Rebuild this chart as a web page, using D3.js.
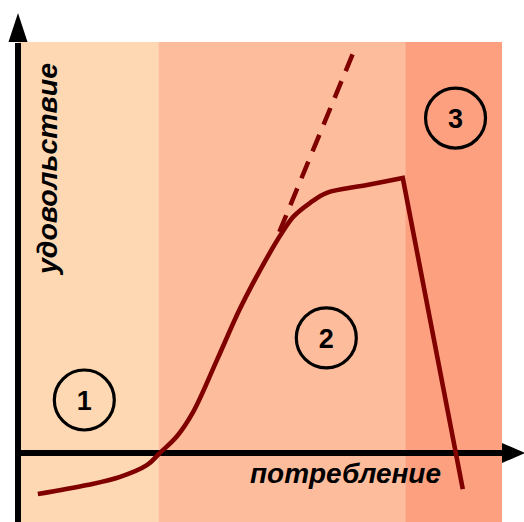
<!DOCTYPE html>
<html><head><meta charset="utf-8">
<script src="https://cdn.jsdelivr.net/npm/d3@7"></script>
<style>html,body{margin:0;padding:0;background:#fff;}</style>
</head><body>
<script>
// Zones (x-range in data units) and their colours
const zoneNames = ["1", "2", "3"];
const zoneStarts = [0, 2.9, 8.0];
const zoneEnds = [2.9, 8.0, 10];
const zoneColors = ["#FED8B2", "#FDBD9C", "#FCA080"];
// label circle positions
const zoneLabelX = [1.37, 6.37, 9.04];
const zoneLabelY = [1.29, 2.80, 8.15];

// Satisfaction curve (smooth part)
const curveX = [0.41, 1.43, 2.11, 2.67, 2.93, 3.28, 3.62, 4.11, 4.59, 5.04, 5.45, 5.69, 6.03, 6.38, 7.21, 7.95];
const curveY = [-1.00, -0.78, -0.58, -0.29, 0.00, 0.40, 1.00, 2.26, 3.52, 4.53, 5.35, 5.75, 6.08, 6.33, 6.52, 6.69];
// drop after saturation point
const dropX = [7.95, 9.19];
const dropY = [6.69, -0.88];
// dashed extrapolation
const dashX = [5.40, 7.0];
const dashY = [5.38, 9.95];

const xLabel = "потребление";
const yLabel = "удовольствие";

const W = 524, H = 522;
const svg = d3.select("body").append("svg").attr("width", W).attr("height", H);

const x = d3.scaleLinear().domain([0, 10]).range([18, 502]);
const y = d3.scaleLinear().domain([0, 10]).range([453, 42]);
const yBottom = -1.7;

// zones
svg.selectAll("rect.zone").data(zoneNames).enter().append("rect")
  .attr("x", (d, i) => x(zoneStarts[i]))
  .attr("width", (d, i) => x(zoneEnds[i]) - x(zoneStarts[i]))
  .attr("y", y(10))
  .attr("height", y(yBottom) - y(10))
  .attr("fill", (d, i) => zoneColors[i]);

const red = "#800000";
// dashed line
svg.append("path")
  .attr("d", d3.line().x(d => x(d[0])).y(d => y(d[1]))(d3.zip(dashX, dashY)))
  .attr("fill", "none").attr("stroke", red).attr("stroke-width", 4.5)
  .attr("stroke-dasharray", "18,11");

// axes
svg.append("line").attr("x1", x(0)).attr("x2", x(0))
  .attr("y1", y(yBottom)).attr("y2", y(10) + 1)
  .attr("stroke", "#000").attr("stroke-width", 6);
svg.append("path")
  .attr("d", `M${x(0)},${y(10) - 29}L${x(0) - 9.5},${y(10)}L${x(0) + 9.5},${y(10)}Z`)
  .attr("fill", "#000");
svg.append("line").attr("x1", x(0) - 3).attr("x2", x(10) + 1)
  .attr("y1", y(0)).attr("y2", y(0))
  .attr("stroke", "#000").attr("stroke-width", 6);
svg.append("path")
  .attr("d", `M${x(10) + 23},${y(0)}L${x(10)},${y(0) - 10}L${x(10)},${y(0) + 10}Z`)
  .attr("fill", "#000");

// curve
const smooth = d3.line().x(d => x(d[0])).y(d => y(d[1])).curve(d3.curveCatmullRom.alpha(0.5));
const pathD = smooth(d3.zip(curveX, curveY)) + "L" + x(dropX[1]) + "," + y(dropY[1]);
svg.append("path").attr("d", pathD)
  .attr("fill", "none").attr("stroke", red).attr("stroke-width", 4.6)
  .attr("stroke-linejoin", "miter");

// zone circles
const g = svg.selectAll("g.lab").data(zoneNames).enter().append("g")
  .attr("transform", (d, i) => `translate(${x(zoneLabelX[i])},${y(zoneLabelY[i])})`);
g.append("circle").attr("r", 30).attr("fill", "none").attr("stroke", "#000").attr("stroke-width", 3.2);
g.append("text").text(d => d)
  .attr("text-anchor", "middle").attr("dy", "0.36em")
  .attr("font-family", "Liberation Sans, Arial, sans-serif")
  .attr("font-weight", "bold").attr("font-size", 27);

// axis labels
svg.append("text").text(xLabel)
  .attr("x", 250).attr("y", 483)
  .attr("textLength", 191).attr("lengthAdjust", "spacingAndGlyphs")
  .attr("font-family", "Liberation Sans, Arial, sans-serif")
  .attr("font-weight", "bold").attr("font-style", "italic").attr("font-size", 27);
svg.append("text").text(yLabel)
  .attr("transform", "translate(57,274) rotate(-90)")
  .attr("textLength", 211).attr("lengthAdjust", "spacingAndGlyphs")
  .attr("font-family", "Liberation Sans, Arial, sans-serif")
  .attr("font-weight", "bold").attr("font-style", "italic").attr("font-size", 27);
</script>
</body></html>
